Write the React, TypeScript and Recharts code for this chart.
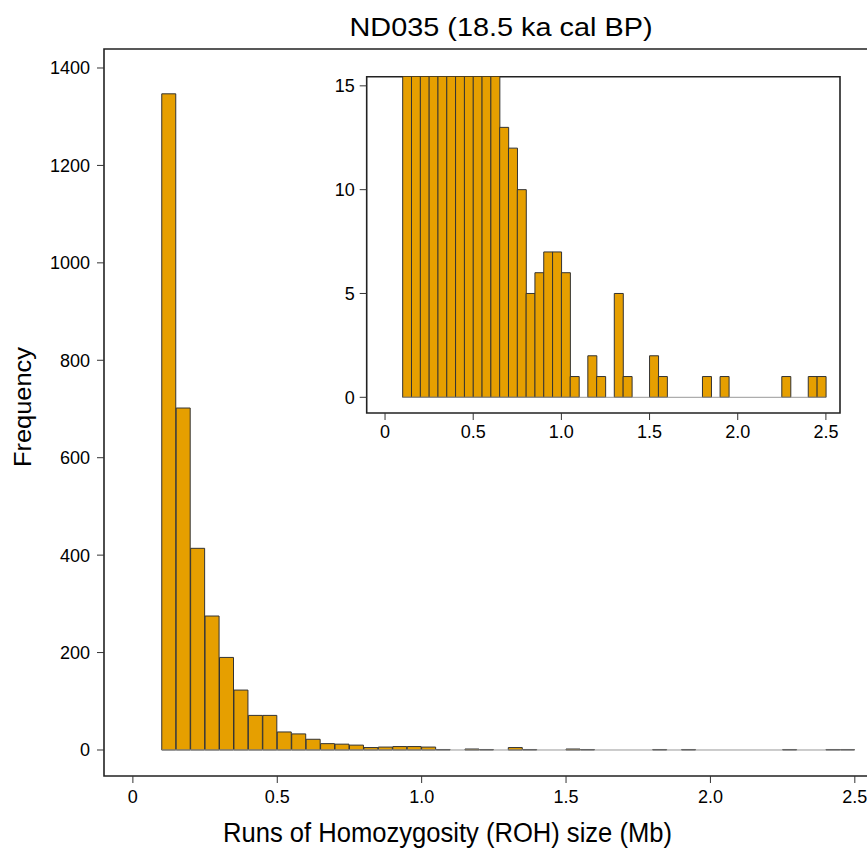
import React from 'react';
import { BarChart, Bar, XAxis, YAxis, ReferenceArea, ReferenceLine } from 'recharts';

// ---- data ----
const binStarts = [
  0.10, 0.15, 0.20, 0.25, 0.30, 0.35, 0.40, 0.45, 0.50, 0.55,
  0.60, 0.65, 0.70, 0.75, 0.80, 0.85, 0.90, 0.95, 1.00, 1.05,
  1.10, 1.15, 1.20, 1.25, 1.30, 1.35, 1.40, 1.45, 1.50, 1.55,
  1.60, 1.65, 1.70, 1.75, 1.80, 1.85, 1.90, 1.95, 2.00, 2.05,
  2.10, 2.15, 2.20, 2.25, 2.30, 2.35, 2.40, 2.45,
];
const counts = [
  1347, 702, 414, 275, 190, 123, 71, 71, 37, 33,
  22, 13, 12, 10, 5, 6, 7, 7, 6, 1,
  0, 2, 1, 0, 5, 1, 0, 0, 2, 1,
  0, 0, 0, 0, 1, 0, 1, 0, 0, 0,
  0, 0, 0, 1, 0, 0, 1, 1,
];
const BIN_WIDTH = 0.05;
const xTicks = [0, 0.5, 1, 1.5, 2, 2.5];
const mainYTicks = [0, 200, 400, 600, 800, 1000, 1200, 1400];
const insetYTicks = [0, 5, 10, 15];
const titleText = 'ND035 (18.5 ka cal BP)';
const xLabelText = 'Runs of Homozygosity (ROH) size (Mb)';
const yLabelText = 'Frequency';

const data = binStarts.map((s, i) => ({
  mid: Math.round((s + BIN_WIDTH / 2) * 1000) / 1000,
  count: counts[i],
}));
const firstEdge = binStarts[0];
const lastEdge = Math.round((binStarts[binStarts.length - 1] + BIN_WIDTH) * 1000) / 1000;

// ---- styles ----
const FONT = '"Liberation Sans", Arial, Helvetica, sans-serif';
const BAR_FILL = '#E69F00';
const BAR_STROKE = '#333333';
const FRAME = '#222222';
const tickStyle = { fontSize: 18, fill: '#000', fontFamily: FONT };
const fmtX = (v: number) => (v === 0 ? '0' : v.toFixed(1));

const MAIN_X_DOMAIN: [number, number] = [-0.1, 2.6];
const MAIN_Y_DOMAIN: [number, number] = [-53.4, 1439];
const INSET_X_DOMAIN: [number, number] = [-0.104, 2.58];
const INSET_Y_DOMAIN: [number, number] = [-0.756, 15.44];

export default function App() {
  return (
    <div
      style={{
        position: 'relative',
        width: 867,
        height: 851,
        overflow: 'hidden',
        background: '#fff',
        fontFamily: FONT,
      }}
    >
      <style>{'html,body{margin:0;padding:0;overflow:hidden;background:#fff}'}</style>
      <div style={{ position: 'absolute', left: 8, top: 8, width: 859, height: 843 }}>
        <div style={{ position: 'absolute', left: 0, top: 0 }}>
          <BarChart
            width={900}
            height={843}
            data={data}
            margin={{ top: 41, right: 24.3, bottom: 30, left: 36 }}
            barCategoryGap={0}
            barGap={0}
          >
            <XAxis
              dataKey="mid"
              type="number"
              domain={MAIN_X_DOMAIN}
              allowDataOverflow
              ticks={xTicks}
              tickFormatter={fmtX}
              tick={tickStyle}
              tickSize={7}
              tickMargin={7}
              tickLine={{ stroke: '#333', strokeWidth: 1 }}
              axisLine={false}
              height={45}
              interval={0}
            />
            <YAxis
              type="number"
              domain={MAIN_Y_DOMAIN}
              allowDataOverflow
              ticks={mainYTicks}
              tick={tickStyle}
              tickSize={7}
              tickMargin={7}
              tickLine={{ stroke: '#333', strokeWidth: 1 }}
              axisLine={false}
              width={60}
              interval={0}
            />
            <ReferenceArea
              x1={MAIN_X_DOMAIN[0]}
              x2={MAIN_X_DOMAIN[1]}
              y1={MAIN_Y_DOMAIN[0]}
              y2={MAIN_Y_DOMAIN[1]}
              fill="none"
              fillOpacity={0}
              stroke={FRAME}
              strokeWidth={1.6}
              ifOverflow="visible"
            />
            <Bar
              dataKey="count"
              fill={BAR_FILL}
              stroke={BAR_STROKE}
              strokeWidth={1}
              isAnimationActive={false}
            />
            <ReferenceLine
              segment={[
                { x: firstEdge, y: 0 },
                { x: lastEdge, y: 0 },
              ]}
              stroke="#999"
              strokeWidth={1}
              ifOverflow="visible"
            />
          </BarChart>
        </div>

        <div style={{ position: 'absolute', left: 292, top: 52, background: '#fff' }}>
          <BarChart
            width={550}
            height={400}
            data={data}
            margin={{ top: 16.7, right: 10, bottom: 7, left: 16.7 }}
            barCategoryGap={0}
            barGap={0}
          >
            <XAxis
              dataKey="mid"
              type="number"
              domain={INSET_X_DOMAIN}
              allowDataOverflow
              ticks={xTicks}
              tickFormatter={fmtX}
              tick={tickStyle}
              tickSize={7}
              tickMargin={5}
              tickLine={{ stroke: '#333', strokeWidth: 1 }}
              axisLine={false}
              height={40}
              interval={0}
            />
            <YAxis
              type="number"
              domain={INSET_Y_DOMAIN}
              allowDataOverflow
              ticks={insetYTicks}
              tick={tickStyle}
              tickSize={7}
              tickMargin={5}
              tickLine={{ stroke: '#333', strokeWidth: 1 }}
              axisLine={false}
              width={50}
              interval={0}
            />
            <Bar
              dataKey="count"
              fill={BAR_FILL}
              stroke={BAR_STROKE}
              strokeWidth={1}
              isAnimationActive={false}
            />
            <ReferenceLine
              segment={[
                { x: firstEdge, y: 0 },
                { x: lastEdge, y: 0 },
              ]}
              stroke="#999"
              strokeWidth={1}
              ifOverflow="visible"
            />
            <ReferenceArea
              x1={INSET_X_DOMAIN[0]}
              x2={INSET_X_DOMAIN[1]}
              y1={INSET_Y_DOMAIN[0]}
              y2={INSET_Y_DOMAIN[1]}
              fill="none"
              fillOpacity={0}
              stroke={FRAME}
              strokeWidth={1.6}
              ifOverflow="visible"
            />
          </BarChart>
        </div>

        <svg
          width={859}
          height={843}
          style={{ position: 'absolute', left: 0, top: 0, pointerEvents: 'none', overflow: 'visible' }}
        >
          <text
            x={493}
            y={27.7}
            textAnchor="middle"
            fontSize={25}
            fontFamily={FONT}
            fill="#000"
            textLength={303}
            lengthAdjust="spacingAndGlyphs"
          >
            {titleText}
          </text>
          <text
            x={439.5}
            y={834}
            textAnchor="middle"
            fontSize={27}
            fontFamily={FONT}
            fill="#000"
            textLength={449}
            lengthAdjust="spacingAndGlyphs"
          >
            {xLabelText}
          </text>
          <text
            x={0}
            y={0}
            transform="translate(22.6 399) rotate(-90)"
            textAnchor="middle"
            fontSize={24}
            fontFamily={FONT}
            fill="#000"
            textLength={120}
            lengthAdjust="spacingAndGlyphs"
          >
            {yLabelText}
          </text>
        </svg>
      </div>
    </div>
  );
}
